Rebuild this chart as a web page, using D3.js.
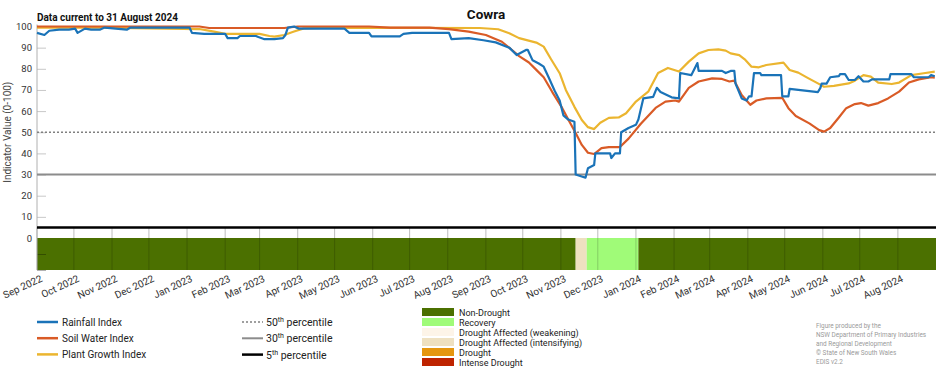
<!DOCTYPE html>
<html>
<head>
<meta charset="utf-8">
<script src="https://cdn.jsdelivr.net/npm/d3@7"></script>
<style>
  body { margin: 0; background: #fff; }
  svg { display: block; font-family: Roboto, "Liberation Sans", sans-serif; }
</style>
</head>
<body>
<div id="chart"></div>
<script>
// ---- data ----
var rainfallDates = ["2022-09-01","2022-09-07","2022-09-11","2022-09-19","2022-09-27","2022-10-02","2022-10-04","2022-10-10","2022-10-15","2022-10-22","2022-10-26","2022-11-13","2022-11-16","2022-12-10","2023-01-03","2023-01-05","2023-01-15","2023-02-01","2023-02-03","2023-02-11","2023-02-13","2023-02-26","2023-02-28","2023-03-05","2023-03-13","2023-03-20","2023-03-22","2023-03-24","2023-03-29","2023-04-02","2023-05-09","2023-05-13","2023-05-29","2023-05-31","2023-06-23","2023-06-26","2023-07-03","2023-08-02","2023-08-04","2023-08-18","2023-08-30","2023-09-09","2023-09-20","2023-09-26","2023-10-04","2023-10-05","2023-10-09","2023-10-14","2023-10-18","2023-10-22","2023-10-27","2023-10-31","2023-11-03","2023-11-07","2023-11-12","2023-11-13","2023-11-21","2023-11-23","2023-11-28","2023-11-29","2023-12-11","2023-12-12","2023-12-15","2023-12-19","2023-12-20","2023-12-26","2024-01-01","2024-01-03","2024-01-07","2024-01-15","2024-01-18","2024-01-21","2024-01-30","2024-02-05","2024-02-06","2024-02-15","2024-02-20","2024-02-21","2024-03-11","2024-03-14","2024-03-18","2024-03-21","2024-03-22","2024-03-27","2024-03-31","2024-04-02","2024-04-04","2024-04-06","2024-04-11","2024-04-12","2024-04-28","2024-04-29","2024-05-04","2024-05-05","2024-05-28","2024-05-30","2024-05-31","2024-06-04","2024-06-07","2024-06-14","2024-06-15","2024-06-19","2024-06-22","2024-06-27","2024-06-30","2024-07-04","2024-07-08","2024-07-11","2024-07-25","2024-07-26","2024-08-12","2024-08-14","2024-08-26","2024-08-28","2024-08-31"];
var rainfallIndex = [97,96,98,98.5,98.5,99,97,99,98.5,98.5,99.5,98.5,99.5,99.5,99.5,97,96.5,96.5,94.5,94.5,95.5,95.5,95,94,94,94.5,96,99.5,100,99,99,97,97,95.3,95.3,96.5,97,97,94,94.5,93.5,92.5,90,86.5,89,89,84,82.5,81,76,69.5,65,58,56,55,30,28.5,33,34.5,40,40,37.8,40,40,50,52,53.5,56,66,66.7,71,69,66.5,66,78,77,82.7,79,79,78,79,79,73,66,65,67,67,78,78,77,77,67,67,70.5,69,71,73,73,76,76.5,77.5,77.5,74.7,74.7,76.5,74,74,75,75,77.5,77.5,76,76,77,76.5];

var soilDates = ["2022-09-01","2023-01-11","2023-01-19","2023-03-21","2023-04-01","2023-05-29","2023-06-15","2023-07-17","2023-08-02","2023-08-18","2023-09-01","2023-09-14","2023-09-22","2023-09-28","2023-10-06","2023-10-12","2023-10-18","2023-10-25","2023-11-02","2023-11-07","2023-11-13","2023-11-18","2023-11-23","2023-11-28","2023-12-04","2023-12-10","2023-12-19","2023-12-26","2024-01-05","2024-01-17","2024-01-25","2024-02-02","2024-02-05","2024-02-13","2024-02-21","2024-03-03","2024-03-11","2024-03-17","2024-03-21","2024-03-27","2024-04-03","2024-04-08","2024-04-16","2024-04-29","2024-05-04","2024-05-10","2024-05-21","2024-05-29","2024-06-02","2024-06-07","2024-06-14","2024-06-20","2024-06-27","2024-07-02","2024-07-08","2024-07-16","2024-07-24","2024-08-02","2024-08-10","2024-08-18","2024-08-28","2024-08-31"];
var soilIndex = [100,100,99.3,99.3,100,100,99.5,99.5,98.8,97.6,96,92.8,89,86,83,79.5,76,69,61.5,56,49.6,44,40.3,39.7,42.5,43,43,47,54,61.5,64.5,65,64.5,71,74,75.5,75.2,74,74.4,67.6,63,65,66,66.3,61.4,57.7,54.2,51,50.3,52,57,61.4,63.3,63.8,62.6,63.8,66,69.2,73.5,75,76,75.8];

var growthDates = ["2022-09-01","2022-10-22","2023-01-11","2023-01-23","2023-02-01","2023-03-01","2023-03-09","2023-03-13","2023-03-21","2023-03-29","2023-04-06","2023-04-27","2023-08-27","2023-09-11","2023-09-20","2023-09-28","2023-10-12","2023-10-18","2023-10-24","2023-10-31","2023-11-05","2023-11-12","2023-11-18","2023-11-23","2023-11-28","2023-12-03","2023-12-10","2023-12-18","2023-12-24","2024-01-01","2024-01-11","2024-01-19","2024-01-27","2024-02-05","2024-02-13","2024-02-21","2024-02-29","2024-03-08","2024-03-14","2024-03-18","2024-03-25","2024-03-30","2024-04-04","2024-04-10","2024-04-16","2024-04-30","2024-05-05","2024-05-12","2024-05-20","2024-05-28","2024-06-02","2024-06-10","2024-06-22","2024-06-27","2024-07-04","2024-07-10","2024-07-16","2024-07-27","2024-08-02","2024-08-12","2024-08-22","2024-08-31"];
var growthIndex = [99.5,99.4,98.8,97.6,96.5,96.5,95.5,95.2,96,97.6,99.1,99.5,99.3,98.7,96.8,94.5,92.4,90.5,84.5,77.9,70,62,55.8,52.4,51.5,54.5,56.8,57,59,64.5,69.2,78,80.4,78.7,83.4,87.3,88.9,89.2,88.6,87.3,86.5,84.2,81,80.7,81.8,82.9,79.4,78.2,75.6,73.1,71.5,71.9,73.1,74.4,77,76.3,73.5,72.8,73.5,77,77.9,78.7];

// drought category periods (bottom band)
var statusStart = ["2022-09-01","2023-11-13","2023-11-22","2024-01-03"];
var statusEnd   = ["2023-11-13","2023-11-22","2024-01-03","2024-09-01"];
var statusName  = ["Non-Drought","Drought Affected (intensifying)","Recovery","Non-Drought"];

var yTicks = [0,10,20,30,40,50,60,70,80,90,100];
var percentiles = [50,30,5];

var seriesNames = ["Rainfall Index","Soil Water Index","Plant Growth Index"];
var seriesColors = ["#1a73b8","#d95b26","#ebb52f"];

var categoryNames = ["Non-Drought","Recovery","Drought Affected (weakening)","Drought Affected (intensifying)","Drought","Intense Drought"];
var categoryColors = ["#4b7000","#a0fb78","#fdf4e8","#eee0c0","#e5960f","#be2300"];

var creditLines = ["Figure produced by the","NSW Department of Primary Industries","and Regional Development","\u00a9 State of New South Wales","EDIS v2.2"];

// ---- chart ----
var W = 952, H = 370;
var parse = d3.timeParse("%Y-%m-%d");
var left = 37, right = 936, bandTop = 238, bandBottom = 270;

var x = d3.scaleTime()
  .domain([parse("2022-09-01"), parse("2024-09-01")])
  .range([left, right]);
var y = d3.scaleLinear().domain([0, 100]).range([bandTop, 26.5]);
var bandY = d3.scaleLinear().domain([0, 2]).range([bandTop, bandBottom]);
var catColor = d3.scaleOrdinal().domain(categoryNames).range(categoryColors);

var svg = d3.select("#chart").append("svg")
  .attr("width", W).attr("height", H);

// title
svg.append("text").attr("x", 486).attr("y", 19)
  .attr("text-anchor", "middle").attr("font-weight", "bold")
  .attr("font-size", 13.5).attr("fill", "#111").text("Cowra");
svg.append("text").attr("x", left).attr("y", 21)
  .attr("font-weight", "bold").attr("font-size", 10).attr("fill", "#111")
  .text("Data current to 31 August 2024");

// y axis
var yAxis = svg.append("g").attr("transform", "translate(" + left + ",0)")
  .call(d3.axisLeft(y).tickValues(yTicks).tickSize(-9).tickPadding(5));
yAxis.select(".domain").remove();
yAxis.selectAll(".tick line").attr("stroke", "#c8c8c8");
yAxis.selectAll(".tick text").attr("font-size", 9.5).attr("fill", "#333")
  .attr("font-family", "Roboto, sans-serif");

svg.append("text")
  .attr("transform", "translate(11," + y(50) + ") rotate(-90)")
  .attr("text-anchor", "middle").attr("font-size", 10).attr("fill", "#444")
  .text("Indicator Value (0-100)");

// month ticks
var months = x.ticks(d3.timeMonth.every(1)).filter(function (d) { return d < x.domain()[1]; });
svg.append("g").selectAll("line").data(months).enter().append("line")
  .attr("x1", function (d) { return x(d); }).attr("x2", function (d) { return x(d); })
  .attr("y1", y(5)).attr("y2", bandTop)
  .attr("stroke", "#bdbdbd").attr("stroke-width", 1);

// drought band
var periods = statusStart.map(function (s, i) {
  return { start: parse(s), end: parse(statusEnd[i]), name: statusName[i] };
});
svg.append("g").selectAll("rect").data(periods).enter().append("rect")
  .attr("x", function (d) { return x(d.start); })
  .attr("width", function (d) { return x(d.end) - x(d.start); })
  .attr("y", bandTop).attr("height", bandBottom - bandTop)
  .attr("fill", function (d) { return catColor(d.name); });

svg.append("g").selectAll("line").data(months).enter().append("line")
  .attr("x1", function (d) { return x(d); }).attr("x2", function (d) { return x(d); })
  .attr("y1", bandTop).attr("y2", bandBottom)
  .attr("stroke", "#000").attr("stroke-opacity", 0.18).attr("stroke-width", 1);

var bAxis = svg.append("g").attr("transform", "translate(" + left + ",0)")
  .call(d3.axisLeft(bandY).tickValues([1, 2]).tickSize(-9).tickFormat(""));
bAxis.select(".domain").remove();
bAxis.selectAll(".tick line").attr("stroke", "#000").attr("stroke-opacity", 0.3);

// left axis line
svg.append("line").attr("x1", left).attr("x2", left)
  .attr("y1", y(100) - 2).attr("y2", bandBottom)
  .attr("stroke", "#b0b0b0").attr("stroke-width", 1);

// x labels
svg.append("g").selectAll("text").data(months).enter().append("text")
  .attr("transform", function (d) { return "translate(" + (x(d) + 6) + ",281) rotate(-25)"; })
  .attr("text-anchor", "end").attr("font-size", 10).attr("fill", "#333")
  .text(function (d) { return d3.timeFormat("%b %Y")(d); });

// percentile lines
var pctStyle = [
  { stroke: "#808080", width: 1.6, dash: "2,2" },
  { stroke: "#8c8c8c", width: 2, dash: null },
  { stroke: "#000", width: 2.5, dash: null }
];
svg.append("g").selectAll("line").data(percentiles).enter().append("line")
  .attr("x1", left).attr("x2", right)
  .attr("y1", function (d) { return y(d); }).attr("y2", function (d) { return y(d); })
  .attr("stroke", function (d, i) { return pctStyle[i].stroke; })
  .attr("stroke-width", function (d, i) { return pctStyle[i].width; })
  .attr("stroke-dasharray", function (d, i) { return pctStyle[i].dash; });

// index lines
function toPoints(dates, vals) {
  return dates.map(function (d, i) { return { date: parse(d), value: vals[i] }; });
}
var line = d3.line()
  .x(function (d) { return x(d.date); })
  .y(function (d) { return y(d.value); });

var series = [
  { pts: toPoints(growthDates, growthIndex), color: seriesColors[2] },
  { pts: toPoints(soilDates, soilIndex), color: seriesColors[1] },
  { pts: toPoints(rainfallDates, rainfallIndex), color: seriesColors[0] }
];
svg.append("g").selectAll("path").data(series).enter().append("path")
  .attr("d", function (d) { return line(d.pts); })
  .attr("fill", "none")
  .attr("stroke", function (d) { return d.color; })
  .attr("stroke-width", 2.2)
  .attr("stroke-linejoin", "round");

// legend: indices
var leg1 = svg.append("g").selectAll("g").data(seriesNames).enter().append("g")
  .attr("transform", function (d, i) { return "translate(37," + (322 + i * 16.2) + ")"; });
leg1.append("line").attr("x1", 0).attr("x2", 21)
  .attr("stroke", function (d, i) { return seriesColors[i]; }).attr("stroke-width", 2.5);
leg1.append("text").attr("x", 25).attr("y", 3.5).attr("font-size", 10).attr("fill", "#222")
  .text(function (d) { return d; });

// legend: percentiles
var leg2 = svg.append("g").selectAll("g").data(percentiles).enter().append("g")
  .attr("transform", function (d, i) { return "translate(242," + (322 + i * 16.3) + ")"; });
leg2.append("line").attr("x1", 0).attr("x2", 21)
  .attr("stroke", function (d, i) { return pctStyle[i].stroke; })
  .attr("stroke-width", function (d, i) { return pctStyle[i].width; })
  .attr("stroke-dasharray", function (d, i) { return pctStyle[i].dash; });
var t2 = leg2.append("text").attr("x", 24).attr("y", 4).attr("font-size", 10.5).attr("fill", "#222");
t2.append("tspan").text(function (d) { return d; });
t2.append("tspan").attr("dy", -4).attr("font-size", 7).text("th");
t2.append("tspan").attr("dy", 4).text(" percentile");

// legend: drought categories
var leg3 = svg.append("g").selectAll("g").data(categoryNames).enter().append("g")
  .attr("transform", function (d, i) { return "translate(422," + (308 + i * 10) + ")"; });
leg3.append("rect").attr("width", 32).attr("height", 8)
  .attr("fill", function (d) { return catColor(d); });
leg3.append("text").attr("x", 37).attr("y", 7.5).attr("font-size", 9).attr("fill", "#222")
  .text(function (d) { return d; });

// credits
svg.append("g").selectAll("text").data(creditLines).enter().append("text")
  .attr("x", 816).attr("y", function (d, i) { return 328 + i * 9; })
  .attr("font-size", 6.4).attr("fill", "#9a9a9a")
  .text(function (d) { return d; });
</script>
</body>
</html>
